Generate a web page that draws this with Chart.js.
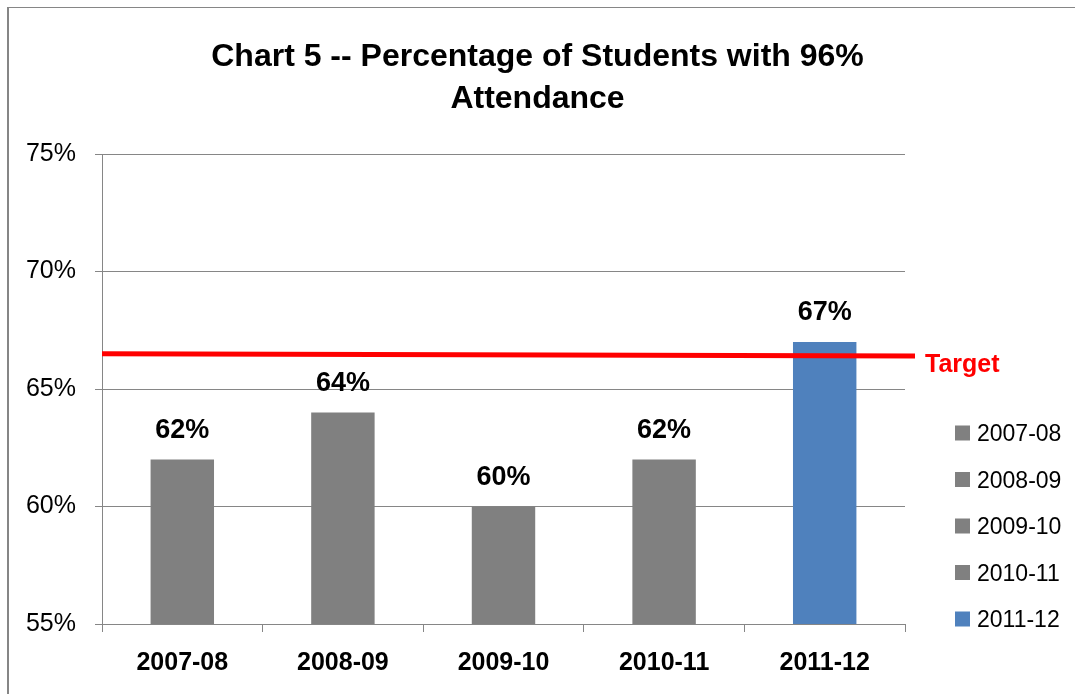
<!DOCTYPE html>
<html>
<head>
<meta charset="utf-8">
<title>Chart 5</title>
<script src="https://cdn.jsdelivr.net/npm/chart.js@4.4.0/dist/chart.umd.min.js"></script>
<style>
  html, body { margin: 0; padding: 0; background: #fff; }
  #wrap { position: relative; width: 1075px; height: 694px; }
  #frame {
    position: absolute; left: 7px; top: 7px; right: 0; bottom: 0;
    border-left: 2px solid #868686; border-top: 1px solid #868686;
    pointer-events: none;
  }
</style>
</head>
<body>
<div id="wrap">
  <canvas id="chart" width="1075" height="694"></canvas>
  <div id="frame"></div>
</div>
<script>
// data
const years = ['2007-08', '2008-09', '2009-10', '2010-11', '2011-12'];
const percentages = [62, 64, 60, 62, 67];
const barColors = ['#808080', '#808080', '#808080', '#808080', '#4f81bd'];
const yTicks = [55, 60, 65, 70, 75];
const targetValues = [66.5, 66.4]; // red line, left end and right end
const targetLabel = 'Target';

const FONT = '"Liberation Sans", Arial, sans-serif';
const GRID = '#868686';

// red target line, its label, value labels and the legend on the right
const extras = {
  id: 'extras',
  afterDatasetsDraw(chart) {
    const { ctx, chartArea, scales: { y } } = chart;
    const meta = chart.getDatasetMeta(0);
    ctx.save();

    const yL = y.getPixelForValue(targetValues[0]);
    const yR = y.getPixelForValue(targetValues[1]);
    ctx.strokeStyle = '#ff0000';
    ctx.lineWidth = 5;
    ctx.beginPath();
    ctx.moveTo(chartArea.left, yL);
    ctx.lineTo(chartArea.right + 10, yR);
    ctx.stroke();

    ctx.fillStyle = '#ff0000';
    ctx.font = 'bold 25px ' + FONT;
    ctx.textAlign = 'left';
    ctx.textBaseline = 'alphabetic';
    ctx.fillText(targetLabel, chartArea.right + 20, yR + 16);

    // value labels above the bars
    ctx.fillStyle = '#000';
    ctx.font = 'bold 27px ' + FONT;
    ctx.textAlign = 'center';
    meta.data.forEach((bar, i) => {
      ctx.fillText(percentages[i] + '%', bar.x, bar.y - 22);
    });

    // legend
    ctx.font = '23px ' + FONT;
    ctx.textAlign = 'left';
    years.forEach((yr, i) => {
      const cy = chartArea.bottom - 5 - (years.length - 1 - i) * 46.5;
      ctx.fillStyle = barColors[i];
      ctx.fillRect(chartArea.right + 50, cy - 7.5, 15, 15);
      ctx.fillStyle = '#000';
      ctx.fillText(yr, chartArea.right + 72, cy + 8);
    });

    ctx.restore();
  }
};

new Chart(document.getElementById('chart'), {
  type: 'bar',
  data: {
    labels: years,
    datasets: [{
      data: percentages,
      backgroundColor: barColors,
      borderWidth: 0,
      categoryPercentage: 1,
      barPercentage: 0.395
    }]
  },
  options: {
    responsive: false,
    devicePixelRatio: 1,
    animation: false,
    layout: { padding: 0 },
    plugins: {
      legend: { display: false },
      tooltip: { enabled: false },
      title: {
        display: true,
        text: ['Chart 5 -- Percentage of Students with 96%', 'Attendance'],
        color: '#000',
        font: { family: FONT, size: 32, weight: 'bold', lineHeight: 1.3125 },
        padding: { top: 36, bottom: 34 }
      }
    },
    scales: {
      x: {
        offset: true,
        grid: { drawOnChartArea: false, drawTicks: true, tickLength: 8, color: GRID, offset: true },
        border: { color: GRID, width: 1 },
        ticks: {
          color: '#000',
          padding: 16,
          maxRotation: 0,
          font: { family: FONT, size: 25, weight: 'bold' }
        }
      },
      y: {
        min: 55,
        max: 75,
        afterBuildTicks: s => { s.ticks = yTicks.map(v => ({ value: v })); },
        afterFit: s => { s.width = 102; },
        grid: { color: GRID, tickLength: 7, lineWidth: 1 },
        border: { color: GRID, width: 1 },
        ticks: {
          color: '#000',
          padding: 19,
          font: { family: FONT, size: 25 },
          callback: v => v + '%'
        }
      },
      // empty axis on the right, only keeps room for the target label and legend
      side: {
        position: 'right',
        min: 55,
        max: 75,
        afterFit: s => { s.width = 170; },
        grid: { display: false },
        border: { display: false },
        ticks: { display: false }
      }
    }
  },
  plugins: [extras]
});
</script>
</body>
</html>
